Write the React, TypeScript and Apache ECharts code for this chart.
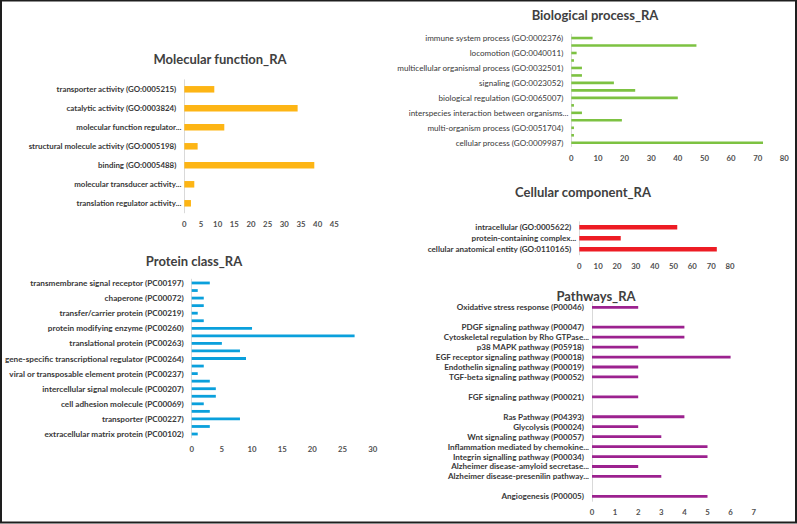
import React, { useEffect, useRef } from "react";
import * as echarts from "echarts";

// ---------- DATA ----------
const mfCategories = [
  "transporter activity (GO:0005215)",
  "catalytic activity (GO:0003824)",
  "molecular function regulator...",
  "structural molecule activity (GO:0005198)",
  "binding (GO:0005488)",
  "molecular transducer activity...",
  "translation regulator activity...",
];
const mfValues = [9, 34, 12, 4, 39, 3, 2];
const mfTicks = { max: 45, interval: 5 };

const bpCategories = [
  "immune system process (GO:0002376)",
  "response to stimulus (GO:0050896)",
  "locomotion (GO:0040011)",
  "growth (GO:0040007)",
  "multicellular organismal process (GO:0032501)",
  "developmental process (GO:0032502)",
  "signaling (GO:0023052)",
  "localization (GO:0051179)",
  "biological regulation (GO:0065007)",
  "reproduction (GO:0000003)",
  "interspecies interaction between organisms...",
  "cellular component organization or biogenesis (GO:0071840)",
  "multi-organism process (GO:0051704)",
  "reproductive process (GO:0022414)",
  "cellular process (GO:0009987)",
];
const bpValues = [8, 47, 2, 1, 4, 4, 16, 24, 40, 1, 4, 19, 1, 1, 72];
const bpTicks = { max: 80, interval: 10 };

const ccCategories = [
  "intracellular (GO:0005622)",
  "protein-containing complex...",
  "cellular anatomical entity (GO:0110165)",
];
const ccValues = [52, 22, 73];
const ccTicks = { max: 80, interval: 10 };

const pcCategories = [
  "transmembrane signal receptor (PC00197)",
  "storage protein (PC00210)",
  "chaperone (PC00072)",
  "defense/immunity protein (PC00090)",
  "transfer/carrier protein (PC00219)",
  "cytoskeletal protein (PC00085)",
  "protein modifying enzyme (PC00260)",
  "metabolite interconversion enzyme (PC00262)",
  "translational protein (PC00263)",
  "RNA metabolism protein (PC00031)",
  "gene-specific transcriptional regulator (PC00264)",
  "chromatin/chromatin-binding, or -regulatory protein (PC00077)",
  "viral or transposable element protein (PC00237)",
  "scaffold/adaptor protein (PC00226)",
  "intercellular signal molecule (PC00207)",
  "protein-binding activity modulator (PC00095)",
  "cell adhesion molecule (PC00069)",
  "membrane traffic protein (PC00150)",
  "transporter (PC00227)",
  "calcium-binding protein (PC00060)",
  "extracellular matrix protein (PC00102)",
];
const pcValues = [3, 1, 2, 2, 1, 2, 10, 27, 5, 8, 9, 2, 1, 3, 4, 4, 2, 3, 8, 3, 1];
const pcTicks = { max: 30, interval: 5 };

const pwCategories = [
  "Oxidative stress response (P00046)",
  " ",
  "PDGF signaling pathway (P00047)",
  "Cytoskeletal regulation by Rho GTPase...",
  "p38 MAPK pathway (P05918)",
  "EGF receptor signaling pathway (P00018)",
  "Endothelin signaling pathway (P00019)",
  "TGF-beta signaling pathway (P00052)",
  "  ",
  "FGF signaling pathway (P00021)",
  "   ",
  "Ras Pathway (P04393)",
  "Glycolysis (P00024)",
  "Wnt signaling pathway (P00057)",
  "Inflammation mediated by chemokine...",
  "Integrin signalling pathway (P00034)",
  "Alzheimer disease-amyloid secretase...",
  "Alzheimer disease-presenilin pathway...",
  "    ",
  "Angiogenesis (P00005)",
];
const pwValues = [2, null, 4, 4, 2, 6, 2, 2, null, 2, null, 4, 2, 3, 5, 5, 2, 3, null, 5];
const pwTicks = { max: 7, interval: 1 };

const titles = [
  "Molecular function_RA",
  "Biological process_RA",
  "Cellular component_RA",
  "Protein class_RA",
  "Pathways_RA",
];

// ---------- STYLE / LAYOUT ----------
const FONT = "Lato, 'Open Sans', sans-serif";
const TEXT = "#383838";

type Panel = {
  cats: string[];
  vals: (number | null)[];
  ticks: { max: number; interval: number };
  color: string;
  grid: { left: number; top: number; width: number; height: number };
  barWidth: number;
  labelBold: boolean;
  labelSize: number;
  interval: number;
  title: string;
  titlePos: [number, number];
};

const panels: Panel[] = [
  {
    cats: mfCategories, vals: mfValues, ticks: mfTicks, color: "#FDB515",
    grid: { left: 184.3, top: 79.8, width: 150, height: 133 },
    barWidth: 6.5, labelBold: true, labelSize: 7.9, interval: 0,
    title: titles[0], titlePos: [220, 59],
  },
  {
    cats: bpCategories, vals: bpValues, ticks: bpTicks, color: "#7DC242",
    grid: { left: 571.3, top: 34.3, width: 213, height: 112.2 },
    barWidth: 2.6, labelBold: false, labelSize: 8.1, interval: 1,
    title: titles[1], titlePos: [595, 15],
  },
  {
    cats: ccCategories, vals: ccValues, ticks: ccTicks, color: "#ED1C24",
    grid: { left: 579.3, top: 221.8, width: 150.7, height: 33 },
    barWidth: 4.5, labelBold: true, labelSize: 8.1, interval: 0,
    title: titles[2], titlePos: [583, 192],
  },
  {
    cats: pcCategories, vals: pcValues, ticks: pcTicks, color: "#0AA0DC",
    grid: { left: 191.7, top: 279.2, width: 181, height: 158.6 },
    barWidth: 2.8, labelBold: true, labelSize: 8.2, interval: 1,
    title: titles[3], titlePos: [194, 261],
  },
  {
    cats: pwCategories, vals: pwValues, ticks: pwTicks, color: "#9C228F",
    grid: { left: 592, top: 302.3, width: 161.7, height: 199 },
    barWidth: 2.8, labelBold: true, labelSize: 8.1, interval: 0,
    title: titles[4], titlePos: [596, 296],
  },
];

export default function App() {
  const ref = useRef<HTMLDivElement>(null);

  useEffect(() => {
    if (!ref.current) return;
    const chart = echarts.init(ref.current, undefined, { renderer: "svg" });

    const grid: any[] = [];
    const xAxis: any[] = [];
    const yAxis: any[] = [];
    const series: any[] = [];
    const graphic: any[] = [];

    panels.forEach((p, i) => {
      grid.push({ ...p.grid, containLabel: false });
      xAxis.push({
        type: "value",
        gridIndex: i,
        min: 0,
        max: p.ticks.max,
        interval: p.ticks.interval,
        axisLine: { show: false },
        axisTick: { show: false },
        splitLine: { show: false },
        axisLabel: {
          margin: 7,
          color: "#505050",
          fontFamily: FONT,
          fontSize: 7.8,
          fontWeight: "bold",
        },
      });
      const w = p.labelBold ? "bold" : "normal";
      yAxis.push({
        type: "category",
        gridIndex: i,
        inverse: true,
        data: p.cats,
        axisLine: { show: true, lineStyle: { color: "#D9D9D9", width: 1 } },
        axisTick: { show: false },
        splitLine: { show: false },
        axisLabel: {
          interval: p.interval,
          margin: 3,
          color: TEXT,
          fontFamily: FONT,
          fontSize: p.labelSize,
          fontWeight: w,
          formatter: (v: string) => {
            if (v.trim() === "") return "";
            return v.endsWith("...") ? `{e|${v}}` : `{n|${v}}`;
          },
          rich: {
            n: { padding: [0, 5, 0, 0], color: TEXT, fontFamily: FONT, fontSize: p.labelSize, fontWeight: w },
            e: { padding: [0, 0, 0, 0], color: TEXT, fontFamily: FONT, fontSize: p.labelSize, fontWeight: w },
          },
        },
      });
      series.push({
        type: "bar",
        xAxisIndex: i,
        yAxisIndex: i,
        data: p.vals,
        barWidth: p.barWidth,
        itemStyle: { color: p.color },
        silent: true,
      });
      graphic.push({
        type: "text",
        x: p.titlePos[0],
        y: p.titlePos[1],
        style: {
          text: p.title,
          textAlign: "center",
          textVerticalAlign: "middle",
          font: `bold 13px ${FONT}`,
          fill: "#404040",
        },
      });
    });

    graphic.push({
      type: "rect",
      shape: { x: 1, y: 0.5, width: 795, height: 522 },
      style: { fill: "none", stroke: "#1E1E1E", lineWidth: 2 },
      silent: true,
    });

    chart.setOption({
      animation: false,
      backgroundColor: "#FFFFFF",
      grid,
      xAxis,
      yAxis,
      series,
      graphic,
    });

    return () => chart.dispose();
  }, []);

  return (
    <div
      ref={ref}
      style={{ position: "absolute", left: 0, top: 0, width: 797, height: 524 }}
    />
  );
}
